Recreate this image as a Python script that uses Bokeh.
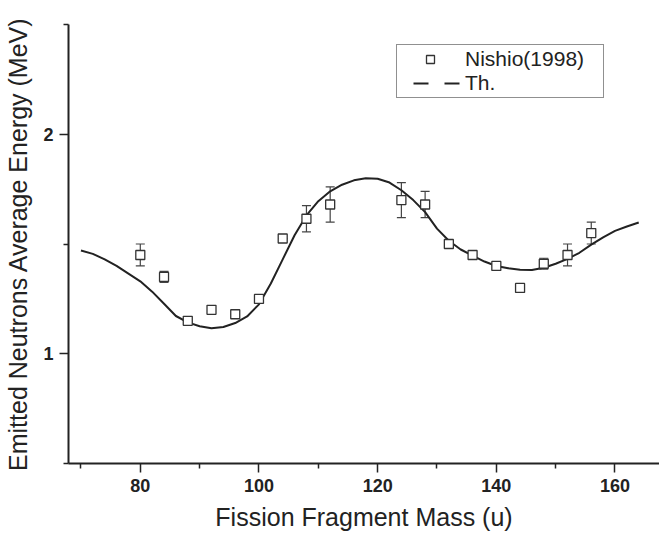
from bokeh.plotting import figure
from bokeh.models import (Range1d, FixedTicker, Whisker, TeeHead, ColumnDataSource,
                          Legend, LegendItem)
from bokeh.embed import file_html
from bokeh.resources import INLINE

# Experimental data: Nishio (1998)
mass_exp = [80, 84, 88, 92, 96, 100, 104, 108, 112, 124, 128, 132, 136, 140, 144, 148, 152, 156]
energy_exp = [1.45, 1.35, 1.15, 1.20, 1.18, 1.25, 1.525, 1.615, 1.68, 1.70, 1.68, 1.50,
              1.45, 1.40, 1.30, 1.41, 1.45, 1.55]
energy_err = [0.05, 0.025, 0.0, 0.0, 0.0, 0.0, 0.0, 0.06, 0.08, 0.08, 0.06, 0.0,
              0.0, 0.0, 0.0, 0.025, 0.05, 0.05]

# Theoretical curve
mass_th = [70, 72, 74, 76, 78, 80, 82, 84, 86, 88, 90, 92, 94, 96, 98, 100, 102, 104, 106,
           108, 110, 112, 114, 116, 118, 120, 122, 124, 126, 128, 130, 132, 134, 136, 138,
           140, 142, 144, 146, 148, 150, 152, 154, 156, 158, 160, 162, 164]
energy_th = [1.47, 1.455, 1.43, 1.40, 1.365, 1.33, 1.283, 1.228, 1.172, 1.143, 1.125, 1.116,
             1.122, 1.14, 1.17, 1.225, 1.32, 1.43, 1.54, 1.63, 1.695, 1.74, 1.77, 1.79,
             1.80, 1.797, 1.78, 1.745, 1.70, 1.645, 1.57, 1.515, 1.475, 1.447, 1.42, 1.40,
             1.39, 1.383, 1.382, 1.392, 1.41, 1.432, 1.46, 1.497, 1.53, 1.56, 1.58, 1.598]

x_ticks = [80, 100, 120, 140, 160]
x_minor = [70, 90, 110, 130, 150, 170]
y_ticks = [1, 2]
y_minor = [0.5, 1.5, 2.5]

FONT = "Liberation Sans"
INK = "#222222"

p = figure(width=659, height=537, output_backend="svg", toolbar_location=None,
           x_range=Range1d(67.9, 167.5), y_range=Range1d(0.5, 2.5),
           min_border_left=68, min_border_right=0, min_border_top=24, min_border_bottom=74,
           background_fill_color="white", border_fill_color="white")
p.outline_line_color = None
p.grid.visible = False

for ax in (p.xaxis[0], p.yaxis[0]):
    ax.axis_line_width = 2
    ax.axis_line_color = INK
    ax.major_tick_line_color = INK
    ax.minor_tick_line_color = INK
    ax.major_tick_line_width = 1.5
    ax.minor_tick_line_width = 1.5
    ax.major_tick_in = 0
    ax.major_tick_out = 9
    ax.minor_tick_in = 0
    ax.minor_tick_out = 5
    ax.major_label_text_font = FONT
    ax.major_label_text_font_style = "bold"
    ax.major_label_text_font_size = "18px"
    ax.major_label_text_color = INK
    ax.axis_label_text_font = FONT
    ax.axis_label_text_font_style = "normal"
    ax.axis_label_text_font_size = "25px"
    ax.axis_label_text_color = INK

p.xaxis.ticker = FixedTicker(ticks=x_ticks, minor_ticks=x_minor)
p.yaxis.ticker = FixedTicker(ticks=y_ticks, minor_ticks=y_minor)
p.xaxis.axis_label = "Fission Fragment Mass (u)"
p.yaxis.axis_label = "Emitted Neutrons Average Energy (MeV)"
p.xaxis.major_label_standoff = 6
p.yaxis.major_label_standoff = 6
p.xaxis.axis_label_standoff = 8
p.yaxis.axis_label_standoff = 8

# theory curve (solid)
p.line(mass_th, energy_th, line_color=INK, line_width=2)

# error bars
src = ColumnDataSource(dict(
    x=mass_exp, y=energy_exp,
    upper=[v + e for v, e in zip(energy_exp, energy_err)],
    lower=[v - e for v, e in zip(energy_exp, energy_err)],
))
w = Whisker(base="x", upper="upper", lower="lower", source=src,
            line_color="#444444", line_width=1.2,
            upper_head=TeeHead(size=9, line_color="#444444", line_width=1.2),
            lower_head=TeeHead(size=9, line_color="#444444", line_width=1.2))
p.add_layout(w)

sq = p.scatter("x", "y", source=src, marker="square", size=9,
               fill_color="white", line_color="#333333", line_width=1.3)

# legend proxy for the dashed "Th." entry (a single point draws nothing in the plot)
th_proxy = p.line(mass_th[:1], energy_th[:1], line_color=INK, line_width=2,
                  line_dash="15 16", line_dash_offset=17)

legend = Legend(items=[LegendItem(label="Nishio(1998)", renderers=[sq]),
                       LegendItem(label="Th.", renderers=[th_proxy])],
                location=(328, 365), padding=2, spacing=0, margin=0,
                glyph_width=62, glyph_height=20, label_standoff=4, label_width=136,
                label_text_font=FONT, label_text_font_size="21px", label_text_color=INK,
                border_line_color=INK, border_line_width=1,
                background_fill_color="white", background_fill_alpha=1.0)
p.add_layout(legend)

open("out.html", "w").write(file_html(p, INLINE))
